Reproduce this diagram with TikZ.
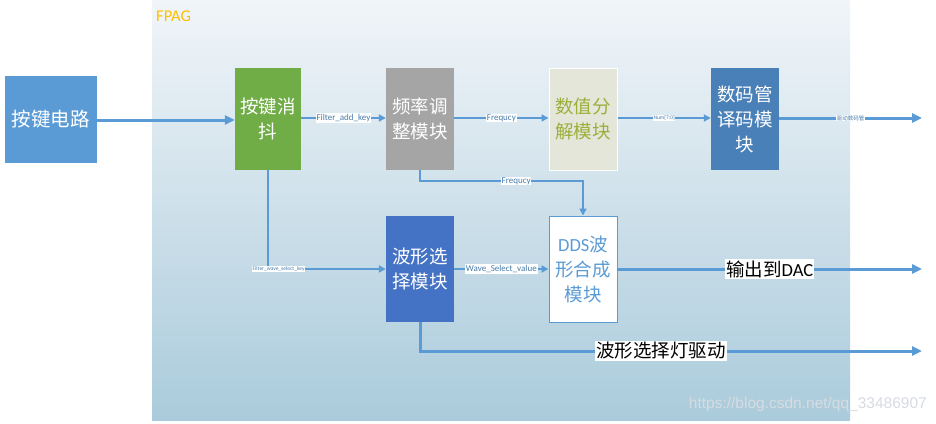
\documentclass[tikz,border=0pt]{standalone}
\usepackage{fontspec}
\setmainfont{Carlito}
\setsansfont{Liberation Sans}
\newfontfamily\cjk{Noto Sans CJK SC}
\usetikzlibrary{arrows.meta}
\definecolor{lb}{HTML}{5B9BD5}
\definecolor{gr}{HTML}{70AD47}
\definecolor{gy}{HTML}{A5A5A5}
\definecolor{bg}{HTML}{E3E6D9}
\definecolor{ol}{HTML}{9CAF3A}
\definecolor{sb}{HTML}{4A80B8}
\definecolor{db}{HTML}{4472C4}
\definecolor{fo}{HTML}{FFC000}
\tikzset{
  blk/.style={draw=none, minimum width=#1, inner sep=0pt, align=center, text=white, font=\cjk\fontsize{18.5}{25}\selectfont},
  thin/.style={draw=lb, line width=1.8pt, -{Triangle[length=7pt,width=7pt]}},
  thick/.style={draw=lb, line width=3pt, -{Triangle[length=10pt,width=9pt]}},
  lab/.style={fill=white, inner sep=0.8pt, text=lb!80!black, font=\fontsize{9}{10}\selectfont},
  tiny/.style={fill=white, inner sep=0.5pt, text=lb!80!black, font=\fontsize{5.5}{6}\selectfont},
  big/.style={fill=white, inner sep=1pt, text=black, font=\cjk\fontsize{18.5}{20}\selectfont}
}
\begin{document}
\begin{tikzpicture}[x=1pt,y=-1pt]
\useasboundingbox (0,0) rectangle (936,423);
\fill[white] (0,0) rectangle (936,423);
\shade[top color={rgb,255:red,241;green,245;blue,249}, bottom color={rgb,255:red,170;green,203;blue,219}] (152,0) rectangle (850,420);
\node[anchor=west, text=fo, font=\fontsize{16.5}{18}\selectfont, inner sep=0pt] (fpag) at (156,16) {FPAG};

\node[blk=92pt, minimum height=87pt, fill=lb, font=\cjk\fontsize{19.5}{22}\selectfont] (key) at (51,119.5) {按键电路};
\node[blk=66pt, minimum height=102pt, fill=gr] (deb) at (268,119) {按键消\\抖};
\node[blk=68pt, minimum height=102pt, fill=gy] (freq) at (420,119) {频率调\\整模块};
\node[blk=68pt, minimum height=102pt, fill=bg, text=ol, draw=white, line width=1pt] (num) at (583,119) {数值分\\解模块};
\node[blk=68pt, minimum height=102pt, fill=sb] (seg) at (745,119) {数码管\\译码模\\块};
\node[blk=68pt, minimum height=106pt, fill=db] (wave) at (420,269) {波形选\\择模块};
\node[blk=68pt, minimum height=106pt, fill=white, draw=lb, line width=1pt, text=lb] (dds) at (583,269) {{\fontsize{18.5}{25}\selectfont\rmfamily DDS}波\\形合成\\模块};

\coordinate (o1) at (922,118);
\coordinate (o2) at (922,269);
\coordinate (o3) at (922,351);

\draw[thick] (key.east |- 0,120) -- (deb.west |- 0,120);
\draw[thin] (deb.east |- 0,118) -- node[lab]{Filter\_add\_key} (freq.west |- 0,118);
\draw[thin] (freq.east |- 0,118) -- node[lab]{Frequcy} (num.west |- 0,118);
\draw[thin] (num.east |- 0,118) -- node[tiny]{Num[7:0]} (seg.west |- 0,118);
\draw[thick] (seg.east |- 0,118) -- node[tiny, font=\cjk\fontsize{5.5}{6}\selectfont]{驱动数码管} (o1);

\draw[thin] (freq.south) -- (420,181) -- node[lab, pos=0.59]{Frequcy} (583,181) -- (dds.north);
\draw[thin] (deb.south) -- (268,269) -- node[tiny, pos=0.09]{Filter\_wave\_select\_key} (wave.west);
\draw[thin] (wave.east) -- node[lab]{Wave\_Select\_value} (dds.west);
\draw[thick] (dds.east) -- node[big]{输出到{\fontsize{18.5}{20}\selectfont\rmfamily DAC}} (o2);
\draw[thick] (wave.south) -- (420,351) -- node[big, pos=0.48]{波形选择灯驱动} (o3);

\node[text={rgb,255:red,215;green,220;blue,226}, font=\sffamily\fontsize{15.5}{17}\selectfont, anchor=east, inner sep=0pt] (wm) at (927,404) {https://blog.csdn.net/qq\_33486907};
\end{tikzpicture}
\end{document}
